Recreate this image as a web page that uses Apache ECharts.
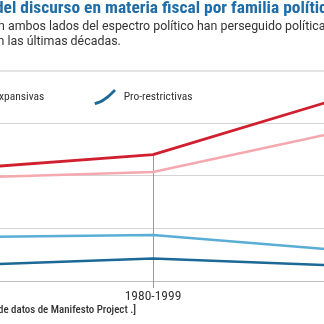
<!DOCTYPE html>
<html><head><meta charset="utf-8">
<script src="https://cdn.jsdelivr.net/npm/echarts@6/dist/echarts.min.js"></script>
<style>
html,body{margin:0;padding:0;background:#fff;overflow:hidden;width:324px;height:324px}
#chart{position:absolute;top:0;left:-90px;width:480px;height:324px}
</style></head>
<body><div id="chart"></div>
<script>
// Periods and share of fiscal discourse by party family
const periods = ['1960-1979', '1980-1999', '2000-2019'];
const expansivasIzq = [10.56, 12.0, 17.8];
const expansivasDer = [9.76, 10.35, 14.5];
const restrictivasDer = [4.15, 4.37, 2.79];
const restrictivasIzq = [1.44, 2.14, 1.40];
const yTicks = [0, 5, 10, 15];

const titleText = 'Evolución del discurso en materia fiscal por familia política';
const subtitle1 = 'Los partidos en ambos lados del espectro político han perseguido políticas más';
const subtitle2 = 'expansivas en las últimas décadas.';
const sourceText = '[Fuente: elaboración propia a partir de la base de datos de Manifesto Project .]';

const OFF = 90; // page x to chart x
const px = x => x + OFF;

const FONT_TITLE = '700 17.4px "Roboto Condensed"';
const FONT_SUB = '12.4px Roboto';
const FONT_LEG = '11.5px "Roboto Condensed"';
const FONT_SRC = '500 10.9px "Roboto Condensed"';

const ctx = document.createElement('canvas').getContext('2d');
function textW(str, font) { ctx.font = font; return ctx.measureText(str).width; }

const RED = '#d0202f', PINK = '#f5a9ae', LBLUE = '#5aadd5', DBLUE = '#1c6896';
const legendIcon = 'path://M0,14 C7,12.5 13,8.5 21,0 L23,2 C15,10.5 9,15 1,17 Z';

const legendLeft = px(45) - textW('Pro-expansivas', FONT_LEG) - 2 - 5 - 23;

const chart = echarts.init(document.getElementById('chart'));
chart.setOption({
  animation: false,
  backgroundColor: '#fff',
  grid: { left: 40, right: 34, top: 123, bottom: 43 },
  legend: {
    left: legendLeft, top: 89, padding: 0,
    itemWidth: 23, itemHeight: 16, itemGap: 50,
    textStyle: { fontFamily: 'Roboto Condensed', fontSize: 11.5, color: '#333', padding: [0, 0, 0, 2] },
    data: [
      { name: 'Pro-expansivas', icon: legendIcon, itemStyle: { color: RED } },
      { name: 'Pro-restrictivas', icon: legendIcon, itemStyle: { color: DBLUE } }
    ]
  },
  xAxis: {
    type: 'category', data: periods, boundaryGap: false,
    axisLine: { lineStyle: { color: '#bdbdbd', width: 1 } },
    axisTick: { show: true, length: 7, alignWithLabel: true, lineStyle: { color: '#999' } },
    axisLabel: { margin: 9, fontFamily: 'Roboto Condensed', fontSize: 13.5, color: '#333' },
    splitLine: { show: false }
  },
  yAxis: {
    type: 'value', min: yTicks[0], max: yTicks[yTicks.length - 1], interval: 5,
    axisLine: { show: false }, axisTick: { show: false },
    axisLabel: { show: true, fontFamily: 'Roboto Condensed', fontSize: 12, color: '#666' },
    splitLine: { lineStyle: { color: '#d4d4d4', width: 1 } }
  },
  series: [
    { name: 'Pro-restrictivas', type: 'line', data: restrictivasIzq, symbol: 'none', clip: false,
      lineStyle: { color: DBLUE, width: 2.5 }, itemStyle: { color: DBLUE } },
    { name: 'Pro-restrictivas (derecha)', type: 'line', data: restrictivasDer, symbol: 'none', clip: false,
      lineStyle: { color: LBLUE, width: 2.5 }, itemStyle: { color: LBLUE } },
    { name: 'Pro-expansivas (derecha)', type: 'line', data: expansivasDer, symbol: 'none', clip: false,
      lineStyle: { color: PINK, width: 2.5 }, itemStyle: { color: PINK } },
    { name: 'Pro-expansivas', type: 'line', data: expansivasIzq, symbol: 'none', clip: false,
      lineStyle: { color: RED, width: 2.8 }, itemStyle: { color: RED }, z: 3,
      markLine: {
        silent: true, symbol: 'none', label: { show: false }, z: 1,
        lineStyle: { color: '#999', width: 1, type: 'solid' },
        data: [[{ coord: [periods[1], expansivasIzq[1]] }, { coord: [periods[1], yTicks[0]] }]]
      } }
  ],
  graphic: [
    { type: 'text', x: px(-5) - textW('Evolución ', FONT_TITLE), y: 8.5,
      style: { text: titleText, font: FONT_TITLE, fill: '#1f6ca6', verticalAlign: 'middle' } },
    { type: 'text', x: px(-2) - textW('Los partidos e', FONT_SUB), y: 26.5,
      style: { text: subtitle1, font: FONT_SUB, fill: '#333', verticalAlign: 'middle' } },
    { type: 'text', x: px(-2.5) - textW('expansivas e', FONT_SUB), y: 42,
      style: { text: subtitle2, font: FONT_SUB, fill: '#333', verticalAlign: 'middle' } },
    { type: 'line', shape: { x1: 0, y1: 71, x2: 480, y2: 71 },
      style: { stroke: '#e4e4e4', lineWidth: 2 } },
    { type: 'text', x: px(136), y: 310,
      style: { text: sourceText, font: FONT_SRC, fill: '#333', align: 'right', verticalAlign: 'middle' } }
  ]
});
</script></body></html>
